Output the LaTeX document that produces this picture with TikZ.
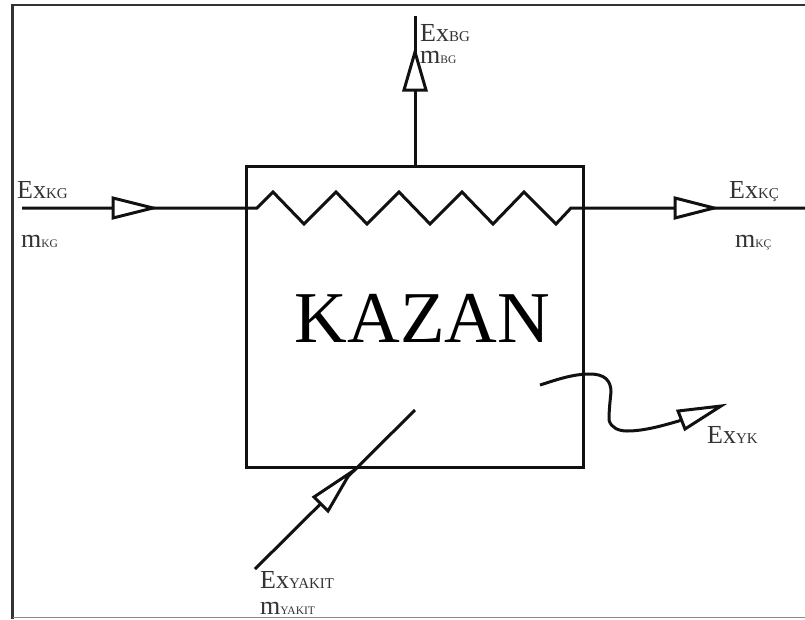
\documentclass[tikz,border=0pt]{standalone}
\usepackage{fontspec}
\setmainfont{Liberation Serif}
\usetikzlibrary{calc,positioning}
\definecolor{KazanInk}{HTML}{111111}
\definecolor{KazanText}{HTML}{333333}
\definecolor{KazanEdge}{HTML}{8A8A8A}
\newcommand{\exlabel}[1]{Ex{\fontsize{15}{15}\selectfont #1}}
\newcommand{\mlabel}[1]{m{\fontsize{11.5}{12}\selectfont #1}}
\tikzset{
  flowline/.style={KazanInk,line width=3pt,line join=miter},
  flowtip/.style={KazanInk,fill=white,line width=3pt,line join=miter},
  flowtext/.style={anchor=base west,inner sep=0pt,text=KazanText,
    font=\fontsize{26}{28}\selectfont},
}
\begin{document}
\begin{tikzpicture}[x=1pt,y=-1pt]
        \useasboundingbox (0,0) rectangle (805,619);

        % frame of the screenshot
        \draw[KazanText,line width=2.6pt] (12.5,619) -- (12.5,5) -- (805,5);
        \draw[KazanEdge,line width=1.4pt] (12.5,617.5) -- (805,617.5);

        \node[draw=KazanInk,line width=3pt,minimum width=337pt,minimum height=301pt,
          inner sep=0pt] (kazan) at (414.5,316.5) {};
        \node[anchor=base,inner sep=0pt,text=black,font=\fontsize{73}{76}\selectfont]
          (kazanname) at (422.5,342) {KAZAN};

        \coordinate (kgin) at (22,208);
        \coordinate (coilin) at (257,208);
        \coordinate (coilout) at (571,208);
        \coordinate (kcout) at (805,208);
        \coordinate (bgfoot) at (415,166);
        \coordinate (bgtop) at (415,16);
        \coordinate (fuelin) at (255,569);
        \coordinate (fuelend) at (415,410);

        % coil through the top of the boiler
        \draw[flowline] (kgin) -- (coilin) -- (273,192) -- (304,224) -- (336,192)
          -- (367,224) -- (399,192) -- (430,224) -- (462,192) -- (493,224)
          -- (524,192) -- (556,224) -- (coilout) -- (kcout);
        \draw[flowline] (bgfoot) -- (bgtop);
        \draw[flowline] (fuelin) -- (fuelend);
        \draw[flowline,line join=round] (540,385) .. controls (556,380) and (572,374) .. (590,374)
          .. controls (604,374) and (611,380) .. (611,392)
          .. controls (610,402) and (609,410) .. (609,420)
          .. controls (611,428) and (619,431) .. (627,431)
          .. controls (645,431) and (665,425) .. (682,420);

        \draw[flowtip] (113,198) -- (153,208) -- (113,218) -- cycle;
        \draw[flowtip] (675,198) -- (714,208) -- (675,218) -- cycle;
        \draw[flowtip] (404,90) -- (415,52) -- (426,90) -- cycle;
        \draw[flowtip] (314,497) -- (350,473) -- (328,511) -- cycle;
        \draw[flowtip] (678,411) -- (721,406) -- (685,429) -- cycle;

        \node[flowtext] (exkg) at (17,198) {\exlabel{KG}};
        \node[flowtext] (mkg) at (21,247) {\mlabel{KG}};
        \node[flowtext] (exbg) at (420,41) {\exlabel{BG}};
        \node[flowtext] (mbg) at (420,63) {\mlabel{BG}};
        \node[flowtext] (exkc) at (729,198) {\exlabel{KÇ}};
        \node[flowtext] (mkc) at (735,247) {\mlabel{KÇ}};
        \node[flowtext] (exyk) at (707,443) {\exlabel{YK}};
        \node[flowtext] (exyakit) at (260,588) {\exlabel{YAKIT}};
        \node[flowtext] (myakit) at (260,614) {\mlabel{YAKIT}};
      \end{tikzpicture}
\end{document}
